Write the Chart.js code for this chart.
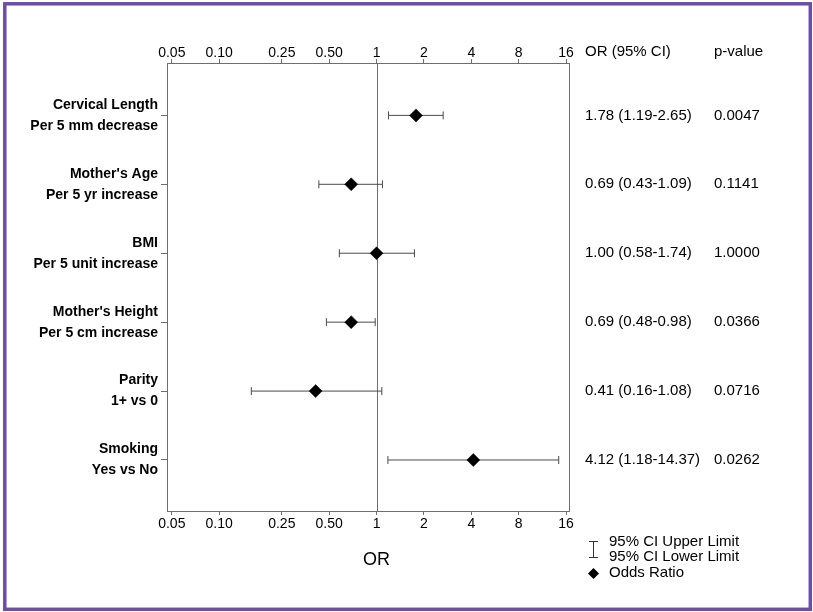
<!DOCTYPE html>
<html>
<head>
<meta charset="utf-8">
<script src="https://cdn.jsdelivr.net/npm/chart.js@4.4.0/dist/chart.umd.min.js"></script>
<style>
  html, body { margin: 0; padding: 0; background: #fff; }
  #wrap { position: relative; width: 813px; height: 612px; }
</style>
</head>
<body>
<div id="wrap"><canvas id="forest" width="813" height="612"></canvas></div>
<script>
// datos del gráfico
const rowNames = ['Cervical Length', "Mother's Age", 'BMI', "Mother's Height", 'Parity', 'Smoking'];
const rowSubs = ['Per 5 mm decrease', 'Per 5 yr increase', 'Per 5 unit increase', 'Per 5 cm increase', '1+ vs 0', 'Yes vs No'];
const oddsRatio = [1.78, 0.69, 1.00, 0.69, 0.41, 4.12];
const ciLower = [1.19, 0.43, 0.58, 0.48, 0.16, 1.18];
const ciUpper = [2.65, 1.09, 1.74, 0.98, 1.08, 14.37];
const pValues = ['0.0047', '0.1141', '1.0000', '0.0366', '0.0716', '0.0262'];
const xTicks = [0.05, 0.10, 0.25, 0.50, 1, 2, 4, 8, 16];
const xTickLabels = ['0.05', '0.10', '0.25', '0.50', '1', '2', '4', '8', '16'];

const FONT = "'Liberation Sans', Arial, sans-serif";
const GRAY = '#6e6e6e';
const BAR = '#4a4a4a';

// eje x logarítmico, se usa arriba y abajo
function makeXAxis(position) {
    return {
        type: 'logarithmic',
        position: position,
        min: 0.0466,
        max: 16.7,
        afterBuildTicks: (scale) => {
            scale.ticks = xTicks.map(v => ({ value: v }));
        },
        afterFit: (scale) => {
            scale.height = position === 'top' ? 63 : 101;
            scale.paddingLeft = 0;
            scale.paddingRight = 0;
        },
        grid: { display: true, drawOnChartArea: false, drawTicks: true, tickLength: 4, color: GRAY },
        border: { display: false },
        ticks: {
            autoSkip: false,
            maxRotation: 0,
            padding: position === 'top' ? -1 : 2,
            color: '#000',
            font: { family: FONT, size: 14, lineHeight: 1 },
            callback: (value) => {
                const i = xTicks.indexOf(value);
                return i >= 0 ? xTickLabels[i] : '';
            }
        }
    };
}

const diamondData = oddsRatio.map((v, i) => ({ x: v, y: i + 1 }));

const ciDatasets = ciLower.map((lo, i) => ({
    type: 'line',
    data: [{ x: lo, y: i + 1 }, { x: ciUpper[i], y: i + 1 }],
    borderColor: BAR,
    borderWidth: 1,
    pointStyle: 'line',
    pointRotation: 90,
    pointRadius: 4,
    pointBorderColor: BAR,
    pointBorderWidth: 1,
    order: 1,
    clip: false
}));

// caja, línea de referencia, columnas de texto y leyenda
const forestDecor = {
    id: 'forestDecor',
    beforeDatasetsDraw(chart) {
        const { ctx, chartArea: a, scales } = chart;
        ctx.save();
        ctx.strokeStyle = GRAY;
        ctx.lineWidth = 1;
        ctx.strokeRect(a.left + 0.5, a.top + 0.5, a.right - a.left, a.bottom - a.top);
        const x1 = Math.round(scales.x.getPixelForValue(1)) + 0.5;
        ctx.beginPath();
        ctx.moveTo(x1, a.top);
        ctx.lineTo(x1, a.bottom);
        ctx.stroke();
        ctx.restore();
    },
    afterDraw(chart) {
        const { ctx, scales } = chart;
        ctx.save();
        ctx.fillStyle = '#000';
        ctx.textBaseline = 'middle';

        // título del eje, centrado sobre OR = 1
        ctx.textAlign = 'center';
        ctx.font = `18px ${FONT}`;
        ctx.fillText('OR', scales.x.getPixelForValue(1), 560);

        ctx.textAlign = 'left';
        ctx.font = `15px ${FONT}`;
        ctx.fillText('OR (95% CI)', 585, 52);
        ctx.fillText('p-value', 714, 52);
        oddsRatio.forEach((v, i) => {
            const y = scales.y.getPixelForValue(i + 1);
            const txt = `${v.toFixed(2)} (${ciLower[i].toFixed(2)}-${ciUpper[i].toFixed(2)})`;
            ctx.fillText(txt, 585, y);
            ctx.fillText(pValues[i], 714, y);
        });

        // leyenda
        ctx.strokeStyle = '#333';
        ctx.lineWidth = 1;
        ctx.beginPath();
        ctx.moveTo(589, 541.5); ctx.lineTo(598, 541.5);
        ctx.moveTo(593.5, 541.5); ctx.lineTo(593.5, 557.5);
        ctx.moveTo(589, 557.5); ctx.lineTo(598, 557.5);
        ctx.stroke();
        ctx.fillText('95% CI Upper Limit', 609, 542);
        ctx.fillText('95% CI Lower Limit', 609, 557);
        ctx.beginPath();
        ctx.moveTo(593.5, 568); ctx.lineTo(599, 573.5); ctx.lineTo(593.5, 579); ctx.lineTo(588, 573.5);
        ctx.closePath();
        ctx.fill();
        ctx.fillText('Odds Ratio', 609, 573);

        // marco morado
        ctx.strokeStyle = '#6b4ea8';
        ctx.lineWidth = 3.5;
        ctx.strokeRect(4.8, 3.8, 805.5, 605.5);
        ctx.restore();
    }
};

new Chart(document.getElementById('forest'), {
    type: 'scatter',
    data: {
        datasets: [{
            type: 'scatter',
            data: diamondData,
            pointStyle: 'rectRot',
            pointRadius: 6.5,
            pointBackgroundColor: '#000',
            pointBorderColor: '#000',
            pointBorderWidth: 0.5,
            order: 0,
            clip: false
        }, ...ciDatasets]
    },
    options: {
        responsive: false,
        animation: false,
        devicePixelRatio: 1,
        layout: { padding: { left: 0, right: 244, top: 0, bottom: 0 } },
        plugins: { legend: { display: false }, tooltip: { enabled: false } },
        scales: {
            x: makeXAxis('bottom'),
            x2: makeXAxis('top'),
            y: {
                type: 'linear',
                position: 'left',
                reverse: true,
                min: 0.24,
                max: 6.74,
                afterBuildTicks: (scale) => {
                    scale.ticks = rowNames.map((_, i) => ({ value: i + 1 }));
                },
                afterFit: (scale) => {
                    scale.width = 167;
                    scale.paddingTop = 0;
                    scale.paddingBottom = 0;
                },
                grid: { display: true, drawOnChartArea: false, drawTicks: true, tickLength: 6, color: GRAY },
                border: { display: false },
                ticks: {
                    autoSkip: false,
                    padding: 3,
                    color: '#000',
                    font: { family: FONT, size: 14, weight: 'bold', lineHeight: 1.5 },
                    callback: (value) => {
                        const i = Math.round(value) - 1;
                        return [rowNames[i], rowSubs[i]];
                    }
                }
            }
        }
    },
    plugins: [forestDecor]
});
</script>
</body>
</html>
